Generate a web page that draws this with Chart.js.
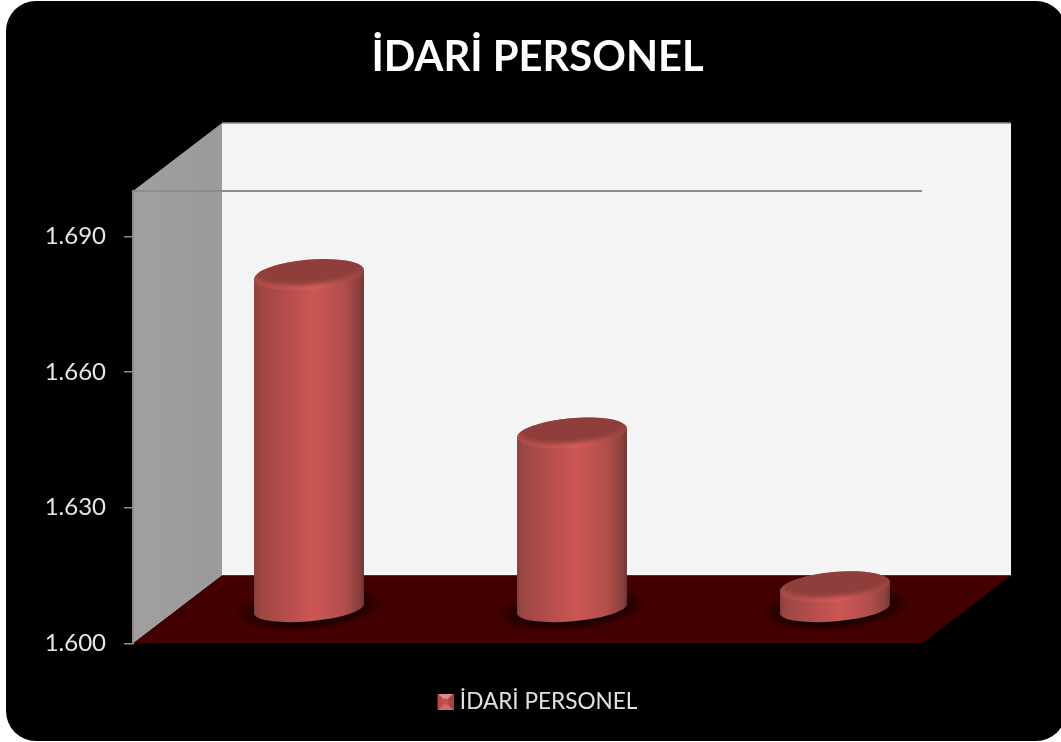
<!DOCTYPE html>
<html>
<head>
<meta charset="utf-8">
<style>
  body { margin: 0; background: #fff; }
  canvas { display: block; }
</style>
<script src="https://cdn.jsdelivr.net/npm/chart.js@4"></script>
</head>
<body>
<canvas id="myChart" width="1061" height="742"></canvas>
<script>
const categories = ['', '', ''];
const seriesName = 'İDARİ PERSONEL';
const personel = [1674, 1639, 1605];
const yTicks = [1600, 1630, 1660, 1690];
const yMin = 1600;
const yMax = 1700;

// how far the back wall sits from the front plane of the plot
const depthX = 89;
const depthY = 68;

const legendIcon = () => {
  const c = document.createElement('canvas');
  c.width = 21;
  c.height = 16;
  const g = c.getContext('2d');
  g.translate(5, 0);
  const tri = (col, x1, y1, x2, y2) => {
    g.fillStyle = col;
    g.beginPath();
    g.moveTo(8, 8);
    g.lineTo(x1, y1);
    g.lineTo(x2, y2);
    g.fill();
  };
  tri('#e08a88', 0, 0, 16, 0);
  tri('#b84a48', 0, 0, 0, 16);
  tri('#a84342', 16, 0, 16, 16);
  tri('#d46a68', 0, 16, 16, 16);
  g.fillStyle = '#c9504e';
  g.fillRect(5, 5, 6, 6);
  return c;
};

const scenery = {
  id: 'scenery',
  beforeDraw(chart) {
    const { ctx, chartArea: a, scales: { y } } = chart;
    const top = y.getPixelForValue(yMax);
    const bottom = y.getPixelForValue(yMin);
    ctx.save();
    // black rounded panel
    ctx.fillStyle = '#000';
    ctx.beginPath();
    ctx.roundRect(6, 1, 1060, 740, 30);
    ctx.fill();
    // back wall
    ctx.fillStyle = '#f4f4f4';
    ctx.fillRect(a.left + depthX, top - depthY, a.right - a.left, bottom - top);
    ctx.strokeStyle = '#8c8c8c';
    ctx.lineWidth = 1.5;
    ctx.beginPath();
    ctx.moveTo(a.left + depthX, top - depthY);
    ctx.lineTo(a.right + depthX, top - depthY);
    ctx.stroke();
    // side wall
    const side = ctx.createLinearGradient(a.left, 0, a.left + depthX, 0);
    side.addColorStop(0, '#a0a0a0');
    side.addColorStop(1, '#9a9a9a');
    ctx.fillStyle = side;
    ctx.beginPath();
    ctx.moveTo(a.left, top);
    ctx.lineTo(a.left + depthX, top - depthY);
    ctx.lineTo(a.left + depthX, bottom - depthY);
    ctx.lineTo(a.left, bottom);
    ctx.fill();
    // floor
    ctx.fillStyle = '#420000';
    ctx.beginPath();
    ctx.moveTo(a.left, bottom);
    ctx.lineTo(a.left + depthX, bottom - depthY);
    ctx.lineTo(a.right + depthX, bottom - depthY);
    ctx.lineTo(a.right, bottom);
    ctx.fill();
    // line at the top of the axis
    ctx.strokeStyle = '#8c8c8c';
    ctx.lineWidth = 2;
    ctx.beginPath();
    ctx.moveTo(a.left, top);
    ctx.lineTo(a.right, top);
    ctx.stroke();
    ctx.restore();
  }
};

const cylinder = (ctx, bar) => {
  const w = bar.width / 2;
  const cx = bar.x + depthX / 2;
  const rx = w * 1.004;
  const ry = w * 0.27;
  const rot = -5 * Math.PI / 180;
  const slant = w * 0.08;
  const topY = bar.y - depthY / 2;
  const baseY = bar.base - depthY / 2;

  // soft shadow on the floor
  ctx.save();
  ctx.translate(cx, baseY);
  ctx.rotate(rot);
  ctx.scale(1, 0.3);
  const sh = ctx.createRadialGradient(0, 0, w * 0.85, 0, 0, w * 1.36);
  sh.addColorStop(0, 'rgba(15,0,0,0.85)');
  sh.addColorStop(1, 'rgba(15,0,0,0)');
  ctx.fillStyle = sh;
  ctx.beginPath();
  ctx.arc(0, 0, w * 1.36, 0, Math.PI * 2);
  ctx.fill();
  ctx.restore();

  // body
  const body = ctx.createLinearGradient(cx - w, 0, cx + w, 0);
  body.addColorStop(0, '#8a3f3d');
  body.addColorStop(0.05, '#9c4644');
  body.addColorStop(0.3, '#b54e4c');
  body.addColorStop(0.55, '#cc5654');
  body.addColorStop(0.82, '#b24e4c');
  body.addColorStop(0.96, '#8a403e');
  body.addColorStop(1, '#703432');
  ctx.fillStyle = body;
  ctx.beginPath();
  ctx.ellipse(cx, baseY, rx, w * 0.23, rot, 0, Math.PI * 2);
  ctx.fill();
  ctx.beginPath();
  ctx.moveTo(cx - w, topY + slant);
  ctx.lineTo(cx + w, topY - slant);
  ctx.lineTo(cx + w, baseY - slant);
  ctx.lineTo(cx - w, baseY + slant);
  ctx.fill();

  // top face, lighter rim at the front
  ctx.save();
  ctx.beginPath();
  ctx.ellipse(cx, topY, rx, ry, rot, 0, Math.PI * 2);
  ctx.clip();
  const rim = ctx.createLinearGradient(cx - w, 0, cx + w, 0);
  rim.addColorStop(0, '#a84a48');
  rim.addColorStop(0.55, '#d55e5b');
  rim.addColorStop(1, '#96433f');
  ctx.fillStyle = rim;
  ctx.fillRect(cx - w - 3, topY - ry - 12, 2 * w + 6, 2 * ry + 24);
  ctx.filter = 'blur(2px)';
  ctx.fillStyle = '#8f3e3c';
  ctx.beginPath();
  ctx.ellipse(cx, topY - 5, rx * 0.96, ry, rot, 0, Math.PI * 2);
  ctx.fill();
  ctx.restore();
};

const cylinders = {
  id: 'cylinders',
  afterDatasetsDraw(chart) {
    const { ctx } = chart;
    ctx.save();
    chart.getDatasetMeta(0).data.forEach(bar => cylinder(ctx, bar));
    ctx.restore();
  }
};

const myChart = new Chart(document.getElementById('myChart'), {
  type: 'bar',
  data: {
    labels: categories,
    datasets: [{
      label: seriesName,
      data: personel,
      base: yMin,
      backgroundColor: 'transparent',
      categoryPercentage: 1,
      barPercentage: 0.418
    }]
  },
  plugins: [scenery, cylinders],
  options: {
    responsive: false,
    animation: false,
    layout: { padding: { left: 14, right: 0, top: 0, bottom: 19 } },
    plugins: {
      tooltip: { enabled: false },
      title: {
        display: true,
        text: seriesName,
        color: '#fff',
        font: { family: 'Lato', size: 41.7, weight: 'bold' },
        padding: { top: 33, bottom: 108 }
      },
      legend: {
        position: 'bottom',
        labels: {
          color: '#e0e0e0',
          font: { family: 'Lato', size: 22.6 },
          usePointStyle: true,
          pointStyle: legendIcon(),
          pointStyleWidth: 11,
          padding: 25
        }
      }
    },
    scales: {
      x: {
        ticks: { display: false },
        grid: { display: false },
        border: { display: false },
        afterFit: axis => { axis.height = 22; }
      },
      y: {
        min: yMin,
        max: yMax,
        afterBuildTicks: axis => { axis.ticks = yTicks.map(v => ({ value: v })); },
        afterFit: axis => { axis.width = 119; },
        ticks: {
          color: '#e6e6e6',
          font: { family: 'Lato', size: 24 },
          padding: 18,
          callback: v => String(v).replace(/(\d)(\d{3})$/, '$1.$2')
        },
        grid: { drawOnChartArea: false, color: '#8c8c8c', lineWidth: 1.5, tickLength: 9 },
        border: { color: '#8c8c8c', width: 2 }
      },
      // empty axis, keeps the plot clear of the right hand wall
      gap: {
        position: 'right',
        ticks: { display: false },
        grid: { display: false },
        border: { display: false },
        afterFit: axis => { axis.width = 139; }
      }
    }
  }
});
</script>
</body>
</html>
